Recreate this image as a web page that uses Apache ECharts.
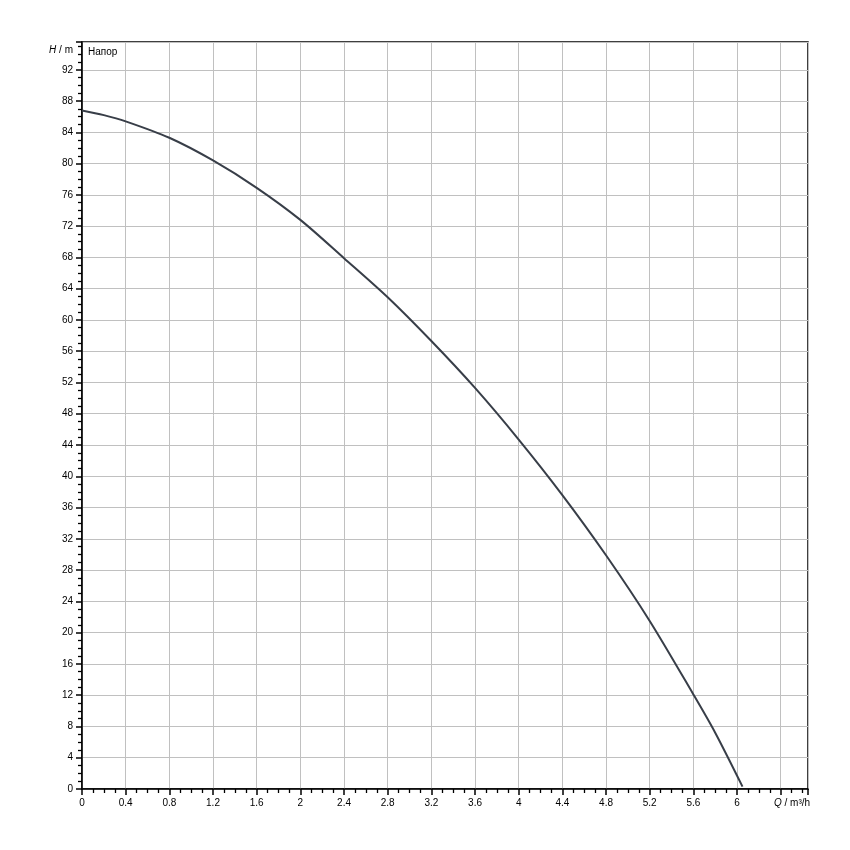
<!DOCTYPE html>
<html>
<head>
<meta charset="utf-8">
<script src="https://cdn.jsdelivr.net/npm/echarts@6/dist/echarts.min.js"></script>
<style>html,body{margin:0;padding:0;background:#fff}#c{width:850px;height:850px}</style>
</head>
<body>
<div id="c"></div>
<script>
var flowQ = [0, 0.2, 0.4, 0.8, 1.2, 1.6, 2.0, 2.4, 2.8, 3.2, 3.6, 4.0, 4.4, 4.8, 5.2, 5.6, 5.8, 6.05];
var headH = [86.8, 86.2, 85.4, 83.3, 80.4, 76.9, 72.8, 67.9, 62.9, 57.3, 51.3, 44.7, 37.6, 29.9, 21.5, 12.1, 7.2, 0.3];
var seriesName = 'Напор';
var yAxisTitle = 'H';
var yAxisUnit = ' / m';
var xAxisTitle = 'Q';
var xAxisUnit = ' / m³/h';
var xLabelMax = 6;
var yLabelMax = 92;

var chart = echarts.init(document.getElementById('c'), null, {renderer: 'canvas'});
var FF = 'Liberation Sans, Arial, sans-serif';
var labelFont = {color: '#000', fontFamily: FF, fontSize: 10};
var points = flowQ.map(function (q, i) { return [q, headH[i]]; });

chart.setOption({
  animation: false,
  backgroundColor: '#fff',
  grid: {left: 82, right: 42, top: 42, bottom: 61, show: true, borderColor: '#000', borderWidth: 1.5, backgroundColor: 'transparent'},
  xAxis: {
    type: 'value', min: 0, max: 6.65, interval: 0.4,
    axisLine: {show: true, onZero: false, lineStyle: {color: '#000', width: 1.5}},
    axisTick: {show: true, length: 6, lineStyle: {color: '#000', width: 1.5}},
    minorTick: {show: true, splitNumber: 4, length: 4, lineStyle: {color: '#000', width: 1.3}},
    splitLine: {show: true, lineStyle: {color: '#c0c0c0', width: 1}},
    axisLabel: Object.assign({showMaxLabel: false, margin: 9, formatter: function (v) { return v > xLabelMax + 1e-6 ? '' : String(+v.toFixed(1)); }}, labelFont)
  },
  yAxis: {
    type: 'value', min: 0, max: 95.55, interval: 4,
    axisLine: {show: true, onZero: false, lineStyle: {color: '#000', width: 1.5}},
    axisTick: {show: true, length: 6, lineStyle: {color: '#000', width: 1.5}},
    minorTick: {show: true, splitNumber: 4, length: 4, lineStyle: {color: '#000', width: 1.3}},
    splitLine: {show: true, lineStyle: {color: '#c0c0c0', width: 1}},
    axisLabel: Object.assign({showMaxLabel: false, margin: 9, formatter: function (v) { return v > yLabelMax + 1e-6 ? '' : String(v); }}, labelFont)
  },
  series: [{
    name: seriesName, type: 'line', data: points, smooth: 0.3, showSymbol: false,
    lineStyle: {color: '#383e48', width: 2}
  }],
  graphic: [
    {type: 'text', left: 88, top: 47, style: {text: seriesName, font: '10px ' + FF, fill: '#000'}},
    {type: 'text', right: 777, top: 45, style: {
      text: '{i|' + yAxisTitle + '}{n|' + yAxisUnit + '}',
      rich: {i: {fontStyle: 'italic', fontSize: 10, fontFamily: FF, fill: '#000'},
             n: {fontSize: 10, fontFamily: FF, fill: '#000'}}
    }},
    {type: 'text', left: 774, top: 798, style: {
      text: '{i|' + xAxisTitle + '}{n|' + xAxisUnit + '}',
      rich: {i: {fontStyle: 'italic', fontSize: 10, fontFamily: FF, fill: '#000'},
             n: {fontSize: 10, fontFamily: FF, fill: '#000'}}
    }}
  ]
});
</script>
</body>
</html>
